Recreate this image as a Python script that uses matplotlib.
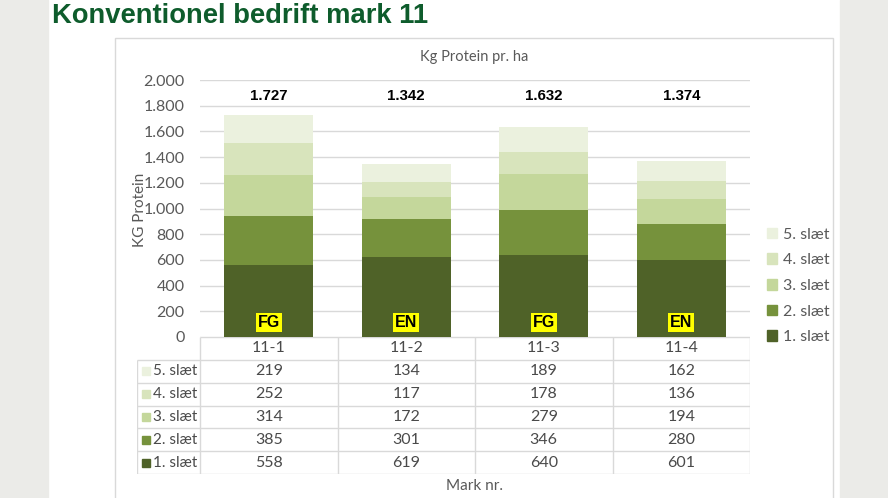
import matplotlib.pyplot as plt
from matplotlib.patches import Rectangle, Patch

# data
marks = ["11-1", "11-2", "11-3", "11-4"]
series_names = ["1. slæt", "2. slæt", "3. slæt", "4. slæt", "5. slæt"]
slaet1 = [558, 619, 640, 601]
slaet2 = [385, 301, 346, 280]
slaet3 = [314, 172, 279, 194]
slaet4 = [252, 117, 178, 136]
slaet5 = [219, 134, 189, 162]
totals = ["1.727", "1.342", "1.632", "1.374"]
tags = ["FG", "EN", "FG", "EN"]
yticks = [0, 200, 400, 600, 800, 1000, 1200, 1400, 1600, 1800, 2000]
colors = ["#4f6228", "#76923c", "#c4d79b", "#d8e4bc", "#ebf1de"]

series = [slaet1, slaet2, slaet3, slaet4, slaet5]

W, H = 888, 498
fig = plt.figure(figsize=(W / 100, H / 100), dpi=100)
fig.patch.set_facecolor("white")
plt.rcParams["font.family"] = ["Lato", "DejaVu Sans"]
grey = "#595959"
arial = ["Liberation Sans", "DejaVu Sans"]

def fx(px):
    return px / W

def fy(py):
    return 1 - py / H

# slide side strips and chart frame
fig.patches.append(Rectangle((0, 0), fx(48), 1, transform=fig.transFigure, color="#ebebe8", zorder=0))
fig.patches.append(Rectangle((fx(840), 0), 1 - fx(840), 1, transform=fig.transFigure, color="#ebebe8", zorder=0))
fig.patches.append(Rectangle((fx(115), -0.01), fx(833 - 115), fy(38) + 0.01, transform=fig.transFigure,
                             fill=False, edgecolor="#d9d9d9", lw=1, zorder=0))

fig.text(fx(52), fy(16), "Konventionel bedrift mark 11", fontsize=19.7, fontweight="bold",
         color="#0e5c2c", family=arial, va="center", ha="left")
fig.text(fx(474), fy(57), "Kg Protein pr. ha", fontsize=10.5, color=grey, ha="center", va="center")
fig.text(fx(140), fy(210), "KG Protein", fontsize=11, color=grey, ha="center", va="center", rotation=90)
fig.text(fx(474), fy(486), "Mark nr.", fontsize=11, color=grey, ha="center", va="center")

# main bar chart
ax = fig.add_axes([fx(200), fy(337), fx(550), (337 - 80) / H])
x = list(range(len(marks)))
bottom = [0] * len(marks)
for vals, name, c in zip(series, series_names, colors):
    ax.bar(x, vals, width=0.65, bottom=bottom, color=c, label=name, zorder=2)
    bottom = [b + v for b, v in zip(bottom, vals)]

ax.set_xlim(-0.5, 3.5)
ax.set_ylim(0, 2000)
ax.set_yticks(yticks)
ax.set_yticklabels([f"{v:,}".replace(",", ".") for v in yticks])
ax.tick_params(axis="y", length=0, pad=11, labelsize=11.5, labelcolor=grey)
ax.set_xticks([])
ax.grid(axis="y", color="#d9d9d9", lw=1, zorder=0)
for s in ax.spines.values():
    s.set_visible(False)

for i in x:
    ax.text(i, 1875, totals[i], ha="center", va="center", fontsize=10.8, fontweight="bold",
            family=arial, color="black")
    ax.text(i, 112, tags[i], ha="center", va="center", fontsize=11.5, fontweight="bold",
            family=arial, color="black", zorder=3,
            bbox=dict(boxstyle="square,pad=0.12", fc="#ffff00", ec="none"))

handles = [Patch(color=c, label=n) for c, n in zip(colors, series_names)][::-1]
fig.legend(handles=handles, loc="center left", bbox_to_anchor=(fx(767), fy(286)), frameon=False,
           borderaxespad=0, borderpad=0,
           handlelength=0.65, handleheight=0.65, handletextpad=0.35, labelspacing=0.73,
           fontsize=11.5, labelcolor=grey)

# data table below the chart
tab = fig.add_axes([fx(137), fy(474), fx(613), (474 - 337) / H])
xl = -0.5 - 63 / 137.5
tab.set_xlim(xl, 3.5)
tab.set_ylim(6, 0)
tab.axis("off")
lc = "#d9d9d9"
tc = "#4a4a4a"
tab.hlines(0, -0.5, 3.5, color=lc, lw=1)
for r in range(1, 7):
    tab.hlines(r, xl, 3.5, color=lc, lw=1)
tab.vlines(xl, 1, 6, color=lc, lw=1)
for k in range(5):
    tab.vlines(-0.5 + k, 0, 6, color=lc, lw=1)

for i, m in enumerate(marks):
    tab.text(i, 0.5, m, ha="center", va="center", fontsize=11.5, color=tc)
rows = list(zip(series_names, series, colors))[::-1]
for r, (name, vals, c) in enumerate(rows):
    yc = r + 1.5
    tab.plot([xl + 8.5 / 137.5], [yc], marker="s", ms=5.5, color=c, clip_on=False)
    tab.text(xl + 16 / 137.5, yc, name, ha="left", va="center", fontsize=11, color=tc)
    for i, v in enumerate(vals):
        tab.text(i, yc, str(v), ha="center", va="center", fontsize=11.5, color=tc)

fig.savefig("out.png", dpi=100)
